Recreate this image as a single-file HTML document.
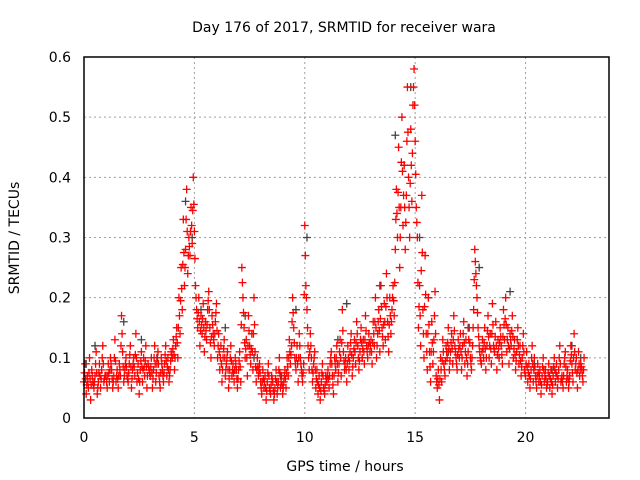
<!DOCTYPE html>
<html><head><meta charset="utf-8"><style>
body{margin:0;background:#fff;}
svg{display:block;font-family:"DejaVu Sans","Liberation Sans",sans-serif;}
</style></head><body>
<svg id="chart" width="640" height="480">
<text x="344" y="32" text-anchor="middle" font-size="14" fill="#000">Day 176 of 2017, SRMTID for receiver wara</text>
<text x="345" y="471" text-anchor="middle" font-size="14" fill="#000">GPS time / hours</text>
<text transform="translate(19,238) rotate(-90)" text-anchor="middle" font-size="14" fill="#000">SRMTID / TECUs</text>
<g id="grid"></g><g id="ticks"></g><g id="marks"></g>
<rect x="84" y="57" width="525" height="361" fill="none" stroke="#000" stroke-width="1.5"/>
</svg>
<script>
const xTicks=[0,5,10,15,20];
const yTicks=[0,0.1,0.2,0.3,0.4,0.5,0.6];
const yTickLabels=["0","0.1","0.2","0.3","0.4","0.5","0.6"];
const timeStep=0.05;
const redValues=[
.06,.09,.04,.07,.05,.1,.03,.08,.06,.05,.07,.11,.04,.06,.09,.05,.08,.12,.06,.07,
.07,.05,.09,.06,.1,.08,.05,.07,.13,.06,.08,.05,.09,.07,.17,.11,.06,.08,.1,.07,
.06,.09,.12,.05,.08,.1,.07,.14,.06,.09,.04,.08,.11,.06,.1,.07,.12,.05,.09,.08,
.07,.1,.05,.08,.12,.06,.09,.11,.07,.05,.1,.08,.06,.09,.12,.07,.1,.06,.08,.11,
.1,.13,.08,.12,.15,.1,.2,.14,.25,.18,.33,.22,.28,.38,.24,.3,.27,.35,.29,.4,
.31,.22,.18,.15,.2,.12,.17,.14,.19,.11,.16,.13,.18,.21,.15,.1,.17,.14,.12,.16,
.19,.1,.14,.08,.12,.06,.1,.13,.07,.09,.11,.05,.08,.12,.07,.09,.06,.1,.08,.05,
.08,.11,.06,.25,.2,.15,.1,.13,.07,.17,.12,.09,.14,.08,.2,.11,.06,.1,.07,.09,
.06,.04,.08,.05,.07,.03,.06,.09,.05,.04,.07,.06,.03,.05,.08,.04,.06,.1,.05,.07,
.04,.06,.08,.05,.1,.07,.13,.09,.12,.2,.15,.1,.08,.12,.06,.14,.1,.08,.06,.09,
.32,.22,.18,.12,.08,.14,.1,.06,.09,.11,.05,.08,.04,.07,.03,.06,.09,.05,.04,.07,
.06,.08,.05,.09,.11,.07,.04,.1,.08,.12,.06,.09,.13,.07,.18,.11,.08,.1,.06,.12,
.08,.11,.14,.07,.1,.13,.09,.16,.12,.08,.11,.15,.1,.13,.09,.17,.12,.1,.14,.11,
.13,.09,.16,.12,.2,.1,.14,.18,.11,.22,.15,.12,.19,.13,.24,.16,.11,.2,.14,.18,
.22,.17,.28,.38,.3,.45,.25,.35,.5,.32,.42,.28,.37,.55,.4,.3,.48,.36,.52,.58,
.46,.35,.3,.15,.22,.12,.37,.18,.1,.27,.14,.08,.2,.11,.06,.16,.09,.13,.21,.07,
.05,.08,.03,.1,.06,.13,.09,.07,.12,.1,.15,.08,.11,.14,.09,.17,.12,.1,.08,.13,
.1,.14,.08,.12,.16,.09,.13,.07,.11,.15,.1,.08,.12,.18,.28,.24,.2,.15,.12,.1,
.09,.13,.1,.15,.08,.12,.17,.1,.14,.09,.19,.12,.11,.16,.08,.13,.1,.15,.12,.09,
.18,.13,.2,.11,.15,.09,.14,.12,.17,.1,.13,.08,.11,.15,.09,.12,.07,.1,.14,.08,
.07,.11,.06,.09,.05,.08,.12,.06,.1,.07,.05,.09,.06,.08,.04,.07,.1,.06,.08,.05,
.06,.09,.05,.08,.04,.07,.1,.06,.09,.05,.08,.12,.06,.07,.05,.09,.11,.06,.08,.05,
.07,.12,.09,.06,.14,.08,.1,.05,.11,.07,.09,.08,.06,.1];
const grayTimes=[0.1,0.5,1.8,2.6,3.3,4.6,4.9,5.3,6.4,7.3,7.7,8.9,9.6,10.1,11.5,11.9,12.6,13.4,14.1,14.5,14.8,15.2,15.6,16.5,17.4,17.9,18.8,19.3,20.4,21.2,22.1,22.5];
const grayValues=[0.09,0.12,0.16,0.13,0.1,0.36,0.3,0.18,0.15,0.17,0.1,0.07,0.18,0.3,0.13,0.19,0.1,0.22,0.47,0.42,0.55,0.3,0.2,0.11,0.15,0.25,0.1,0.21,0.09,0.08,0.12,0.1];
const X0=84,X1=609,XMAX=23.78,Y0=418,Y1=57,YMAX=0.6;
function sx(v){return X0+(v/XMAX)*(X1-X0);}
function sy(v){return Y0-(v/YMAX)*(Y0-Y1);}
const NS="http://www.w3.org/2000/svg";
const grid=document.getElementById('grid'),ticks=document.getElementById('ticks'),marks=document.getElementById('marks');
function mk(t,a,p){const e=document.createElementNS(NS,t);for(const k in a)e.setAttribute(k,a[k]);p.appendChild(e);return e;}
xTicks.forEach(v=>{const x=sx(v);
 if(v>0){const g=mk('line',{x1:x,x2:x,y1:Y1,y2:Y0,stroke:'#a0a0a0','stroke-dasharray':'2,3'},grid);
 
 }
 const t=mk('text',{x:x,y:Y0+24,'text-anchor':'middle','font-size':'14'},ticks);t.textContent=v;
 
 
});
yTicks.forEach((v,i)=>{const y=sy(v);
 if(v>0){const g=mk('line',{x1:X0,x2:X1,y1:y,y2:y,stroke:'#a0a0a0','stroke-dasharray':'2,3'},grid);
 
 }
 const t=mk('text',{x:X0-13,y:y+5,'text-anchor':'end','font-size':'14'},ticks);t.textContent=yTickLabels[i];
 
 
});
function plus(x,y,c,name){const p=mk('path',{d:`M${x-4},${y}h8M${x},${y-4}v8`,stroke:c,'stroke-width':1.3,fill:'none'},marks);
 
 }
grayValues.forEach((v,i)=>plus(sx(grayTimes[i]),sy(v),'#444','gray-point'));
redValues.forEach((v,i)=>{const t=i*timeStep;plus(sx(t),sy(v),'#ff0000','red-point');
 if(i>0){plus(sx(t-timeStep/2),sy((v+redValues[i-1])/2),'#ff0000','red-point');}});
</script>
</body></html>
